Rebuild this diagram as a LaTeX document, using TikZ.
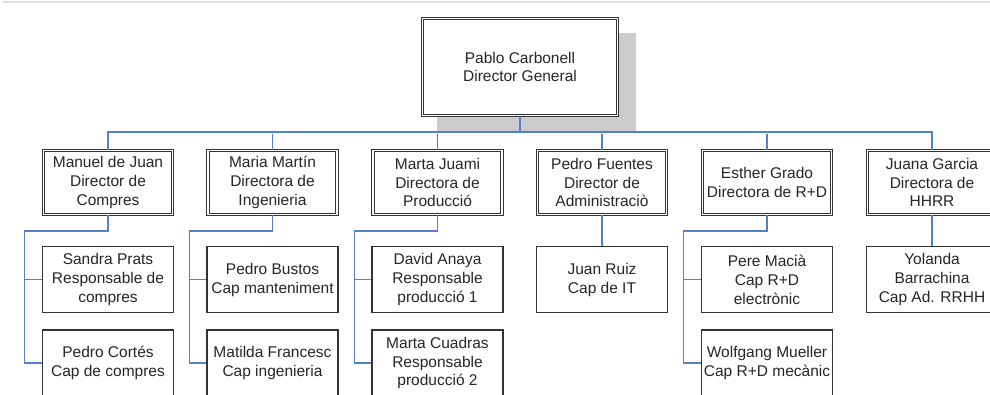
\documentclass[tikz,border=0pt]{standalone}
\usepackage{fontspec}
\setmainfont{Liberation Sans}
\usepackage{xcolor}
\usetikzlibrary{positioning}

\definecolor{linkblue}{RGB}{84,128,200}
\definecolor{shadowgray}{RGB}{204,204,204}
\definecolor{boxline}{RGB}{51,51,51}

\begin{document}
\begin{tikzpicture}[x=1pt, y=1pt,
  every node/.style={font=\fontsize{15.5}{18.8}\selectfont, text=black!85, align=center, inner sep=2pt},
  head/.style={draw=boxline, double=white, line width=1.1pt, double distance=1.6pt,
    minimum width=195pt, minimum height=97pt, fill=white},
  boss/.style={draw=boxline, double=white, line width=1.1pt, double distance=1.6pt,
    minimum width=129pt, minimum height=64pt, fill=white},
  staff/.style={draw=boxline, line width=1.3pt, minimum width=131pt, minimum height=66pt, fill=white},
  link/.style={draw=linkblue, line width=1.2pt}]

\useasboundingbox (0,0) rectangle (990,-394);
\clip (0,0) rectangle (990,-394);
\draw[black!12, line width=1.5pt] (3,-2) -- (990,-2);

% direccio general
\fill[shadowgray] (437,-33) rectangle (636,-133);
\node[head] (pablo) at (520,-67) {Pablo Carbonell\\Director General};

% directors
\node[boss] (manuel) at (108,-182.5) {Manuel de Juan\\Director de\\Compres};
\node[boss] (maria) at (272.5,-182.5) {Maria Martín\\Directora de\\Ingenieria};
\node[boss] (juami) at (437.5,-182.5) {Marta Juami\\Directora de\\Producció};
\node[boss] (fuentes) at (602,-182.5) {Pedro Fuentes\\Director de\\Administraciò};
\node[boss] (esther) at (767,-182.5) {Esther Grado\\Directora de R+D};
\node[boss] (juana) at (932,-182.5) {Juana Garcia\\Directora de\\HHRR};

% bus
\draw[link] (pablo.south) -- ++(0,-16) coordinate (bus);
\draw[link] (manuel.north) |- (bus) -| (juana.north);
\foreach \n in {maria,juami,fuentes,esther}
  \draw[link] (\n.north) -- ++(0,16);

% responsables
\node[staff, below=31pt of manuel] (sandra) {Sandra Prats\\Responsable de\\compres};
\node[staff, below=16pt of sandra] (cortes) {Pedro Cortés\\Cap de compres};
\node[staff, below=31pt of maria] (bustos) {Pedro Bustos\\Cap manteniment};
\node[staff, below=16pt of bustos] (matilda) {Matilda Francesc\\Cap ingenieria};
\node[staff, below=31pt of juami] (anaya) {David Anaya\\Responsable\\producció 1};
\node[staff, below=16pt of anaya] (cuadras) {Marta Cuadras\\Responsable\\producció 2};
\node[staff, below=31pt of fuentes] (ruiz) {Juan Ruiz\\Cap de IT};
\node[staff, below=31pt of esther] (macia) {Pere Macià\\Cap R+D\\electrònic};
\node[staff, below=16pt of macia] (mueller) {Wolfgang Mueller\\Cap R+D mecànic};
\node[staff, below=31pt of juana] (yolanda) {Yolanda\\Barrachina\\Cap Ad. RRHH};

% lligams
\foreach \b/\u/\d in {manuel/sandra/cortes, maria/bustos/matilda, juami/anaya/cuadras, esther/macia/mueller}{
  \draw[link] (\b.south) -- ++(0,-16) -| ([xshift=-17pt]\d.west) -- (\d.west);
  \draw[link] ([xshift=-17pt]\u.west) -- (\u.west);
}
\draw[link] (fuentes.south) -- (ruiz.north);
\draw[link] (juana.south) -- (yolanda.north);

\end{tikzpicture}
\end{document}
